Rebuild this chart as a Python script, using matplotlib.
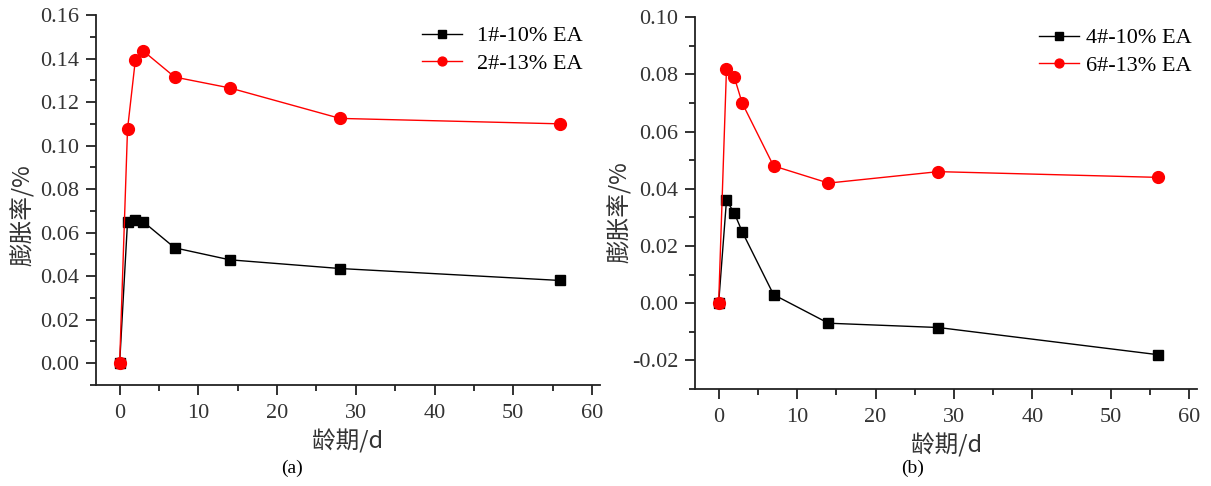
import matplotlib
matplotlib.use("Agg")
import matplotlib.pyplot as plt
from matplotlib.ticker import MultipleLocator, FormatStrFormatter

days = [0, 1, 2, 3, 7, 14, 28, 56]
a_black = [0.0, 0.065, 0.066, 0.065, 0.053, 0.0475, 0.0435, 0.038]
a_red = [0.0, 0.1075, 0.1395, 0.1435, 0.1315, 0.1265, 0.1125, 0.110]
b_black = [0.0, 0.036, 0.0315, 0.025, 0.003, -0.007, -0.0085, -0.018]
b_red = [0.0, 0.082, 0.079, 0.070, 0.048, 0.042, 0.046, 0.044]
labels_a = ["1#-10% EA", "2#-13% EA"]
labels_b = ["4#-10% EA", "6#-13% EA"]

cjk = ["Noto Sans CJK SC", "DejaVu Sans"]
serif = ["Liberation Serif", "DejaVu Serif"]

fig = plt.figure(figsize=(12.11, 4.86), dpi=100)
ax1 = fig.add_axes([0.0793, 0.208, 0.416, 0.761])
ax2 = fig.add_axes([0.574, 0.1996, 0.4145, 0.765])

def style(ax, ylim, ymaj, ymin, ylab_xy):
    ax.spines["top"].set_visible(False)
    ax.spines["right"].set_visible(False)
    for s in ("left", "bottom"):
        ax.spines[s].set_linewidth(1.3)
        ax.spines[s].set_color("#222222")
    ax.set_xlim(-3, 61)
    ax.set_ylim(*ylim)
    ax.xaxis.set_major_locator(MultipleLocator(10))
    ax.xaxis.set_minor_locator(MultipleLocator(5))
    ax.yaxis.set_major_locator(MultipleLocator(ymaj))
    ax.yaxis.set_minor_locator(MultipleLocator(ymin))
    ax.yaxis.set_major_formatter(FormatStrFormatter("%.2f"))
    ax.tick_params(which="major", direction="out", length=7, width=1.3, labelsize=16,
                   colors="#222222", pad=5)
    ax.tick_params(which="minor", direction="out", length=4, width=1.3, colors="#222222")
    ax.tick_params(axis="x", which="major", pad=7)
    for t in ax.get_xticklabels() + ax.get_yticklabels():
        t.set_family(serif)
        t.set_color("#333333")
    ax.set_xlabel("龄期/d", family=cjk, fontsize=17, color="#333333", labelpad=4)
    ax.set_ylabel("膨胀率/%", family=cjk, fontsize=17, color="#333333")
    ax.yaxis.set_label_coords(*ylab_xy)

for ax, yb, yr, labs in ((ax1, a_black, a_red, labels_a), (ax2, b_black, b_red, labels_b)):
    ax.plot(days, yb, color="black", marker="s", markersize=7, linewidth=1, label=labs[0])
    ax.plot(days, yr, color="red", marker="o", markersize=8.5, linewidth=1, label=labs[1])

style(ax1, (-0.01, 0.16), 0.02, 0.01, (-0.122, 0.46))
style(ax2, (-0.03, 0.10), 0.02, 0.01, (-0.1255, 0.476))

ax1.legend(loc="upper left", bbox_to_anchor=(0.607, 1.025), frameon=False,
           prop={"family": serif, "size": 16}, handlelength=1.8, markerscale=0.75,
           labelspacing=0.3, handletextpad=0.7)
ax2.legend(loc="upper left", bbox_to_anchor=(0.645, 1.025), frameon=False,
           prop={"family": serif, "size": 16}, handlelength=1.8, markerscale=0.75,
           labelspacing=0.3, handletextpad=0.3)

fig.text(292 / 1211, 1 - 468 / 486, "(a)", family=serif, fontsize=14, ha="center", va="center")
fig.text(913 / 1211, 1 - 468 / 486, "(b)", family=serif, fontsize=14, ha="center", va="center")

fig.savefig("out.png", dpi=100)
